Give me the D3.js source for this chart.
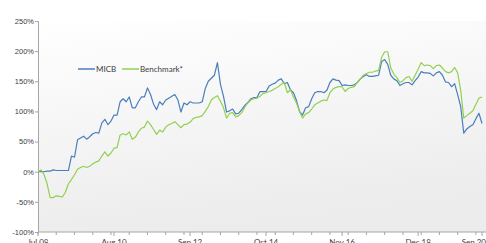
<!DOCTYPE html>
<html><head><meta charset="utf-8">
<script src="https://cdn.jsdelivr.net/npm/d3@7"></script>
<style>
html,body{margin:0;padding:0;background:#fff;overflow:hidden;}
svg{display:block;font-family:Lato,"Open Sans",sans-serif;}
</style></head>
<body><svg id="c" width="486" height="243"></svg>
<script>
// Monthly data, Jul 2008 .. Sep 2020 (cumulative return, %)
const startYear = 2008, startMonth = 6; // July
const micb = [
0,0,0,1,1,3,2,2,2,2,
2,26,24,53,56,59,54,58,63,65,
64,81,87,78,84,94,94,116,121,116,
124,106,106,116,124,124,139,128,112,103,
116,111,119,122,125,128,119,99,114,111,
116,114,114,114,116,138,150,155,160,181,
145,125,99,101,104,96,97,103,110,115,
121,123,123,133,133,133,142,145,147,152,
154,146,148,136,131,118,100,94,106,108,
121,131,133,133,131,135,148,154,152,151,
143,144,143,143,144,148,154,158,161,158,
158,159,160,183,186,178,160,154,151,143,
146,148,148,144,151,157,166,164,164,163,
159,164,166,160,149,148,141,146,128,108,
64,71,75,78,88,97,80
];
const benchmark = [
0,3,-5,-20,-43,-43,-40,-41,-42,-34,
-20,-13,-5,4,7,9,7,9,13,16,
18,26,33,26,31,39,40,61,63,61,
66,54,57,66,72,74,84,78,70,62,
69,66,74,78,80,83,78,73,78,79,
82,88,90,91,93,100,108,119,123,126,
117,106,89,97,98,91,93,98,107,114,
119,121,122,125,130,131,133,135,138,141,
145,148,131,136,124,114,100,89,96,98,
104,111,114,117,119,118,131,137,140,141,
141,133,138,140,141,148,154,160,163,165,
165,167,168,190,199,199,172,162,156,148,
151,156,158,150,160,170,181,176,177,176,
171,176,177,172,166,164,166,173,164,135,
89,93,97,101,112,122,124
];
const seriesNames = ["MICB", "Benchmark*"];
const seriesColors = ["#4a7ebb", "#92d050"];
const yTicks = [-100,-50,0,50,100,150,200,250];
const xLabelIdx = [0,25,50,75,100,125,146];
const monthNames = ["Jan","Feb","Mar","Apr","May","Jun","Jul","Aug","Sep","Oct","Nov","Dec"];
const categories = micb.map((_, i) => {
  const m = startMonth + i;
  const y = startYear + Math.floor(m / 12);
  return monthNames[m % 12] + " " + String(y % 100).padStart(2, "0");
});

const svg = d3.select("#c");
const W = 486, H = 243;
const m = {left: 38, top: 21, bottom: 232, right: 482};

const x = d3.scaleLinear().domain([0, micb.length - 1]).range([m.left, m.right]);
const y = d3.scaleLinear().domain([-100, 250]).range([m.bottom, m.top]);

const defs = svg.append("defs");
const g = defs.append("linearGradient").attr("id","bg").attr("x1","0").attr("y1","0").attr("x2","0.25").attr("y2","1");
g.append("stop").attr("offset","0%").attr("stop-color","#ffffff");
g.append("stop").attr("offset","100%").attr("stop-color","#ececec");

svg.append("rect").attr("x", m.left).attr("y", m.top)
  .attr("width", W - m.left).attr("height", m.bottom - m.top)
  .attr("fill", "url(#bg)");

// Y axis
const yAxis = d3.axisLeft(y).tickValues(yTicks).tickSize(3).tickFormat(d => d + "%");
const ya = svg.append("g").attr("transform", `translate(${m.left},0)`).call(yAxis);
ya.select(".domain").attr("stroke", "#a6a6a6");
ya.selectAll(".tick line").attr("stroke", "#a6a6a6");
ya.selectAll(".tick text").attr("fill", "#404040").style("font-size", "7.5px").attr("x", -4);

// X axis: minor ticks every 6 months, major at labels
const xg = svg.append("g").attr("transform", `translate(0,${m.bottom})`);
xg.append("line").attr("x1", m.left).attr("x2", W).attr("stroke", "#a6a6a6");
const minor = d3.range(0, micb.length, 6);
xg.selectAll("line.mn").data(minor).join("line").attr("class","mn")
  .attr("x1", d => x(d)).attr("x2", d => x(d)).attr("y1", 0).attr("y2", 3).attr("stroke", "#a6a6a6");
xg.selectAll("line.mj").data(xLabelIdx).join("line").attr("class","mj")
  .attr("x1", d => x(d)).attr("x2", d => x(d)).attr("y1", 0).attr("y2", 4).attr("stroke", "#a6a6a6");
const last = xLabelIdx[xLabelIdx.length - 1];
xg.selectAll("text").data(xLabelIdx).join("text")
  .attr("x", d => d === last ? W : x(d)).attr("y", 13)
  .attr("text-anchor", d => d === last ? "end" : "middle")
  .attr("fill", "#404040").style("font-size", "8px").text(d => categories[d]);

// Lines
const line = d3.line().x((d, i) => x(i)).y(d => y(d));
[micb, benchmark].forEach((s, k) => {
  svg.append("path").datum(s).attr("d", line).attr("fill", "none")
    .attr("stroke", seriesColors[k]).attr("stroke-width", 1.2).attr("stroke-linejoin", "round");
});

// Legend
const lg = svg.append("g").attr("transform", "translate(78,69)");
const lx = [0, 44];
seriesNames.forEach((n, k) => {
  lg.append("line").attr("x1", lx[k]).attr("x2", lx[k] + 17).attr("y1", 0).attr("y2", 0)
    .attr("stroke", seriesColors[k]).attr("stroke-width", 1.5);
  lg.append("text").attr("x", lx[k] + 18).attr("y", 3).attr("fill", "#404040")
    .style("font-size", "8px").text(n);
});
</script></body></html>
